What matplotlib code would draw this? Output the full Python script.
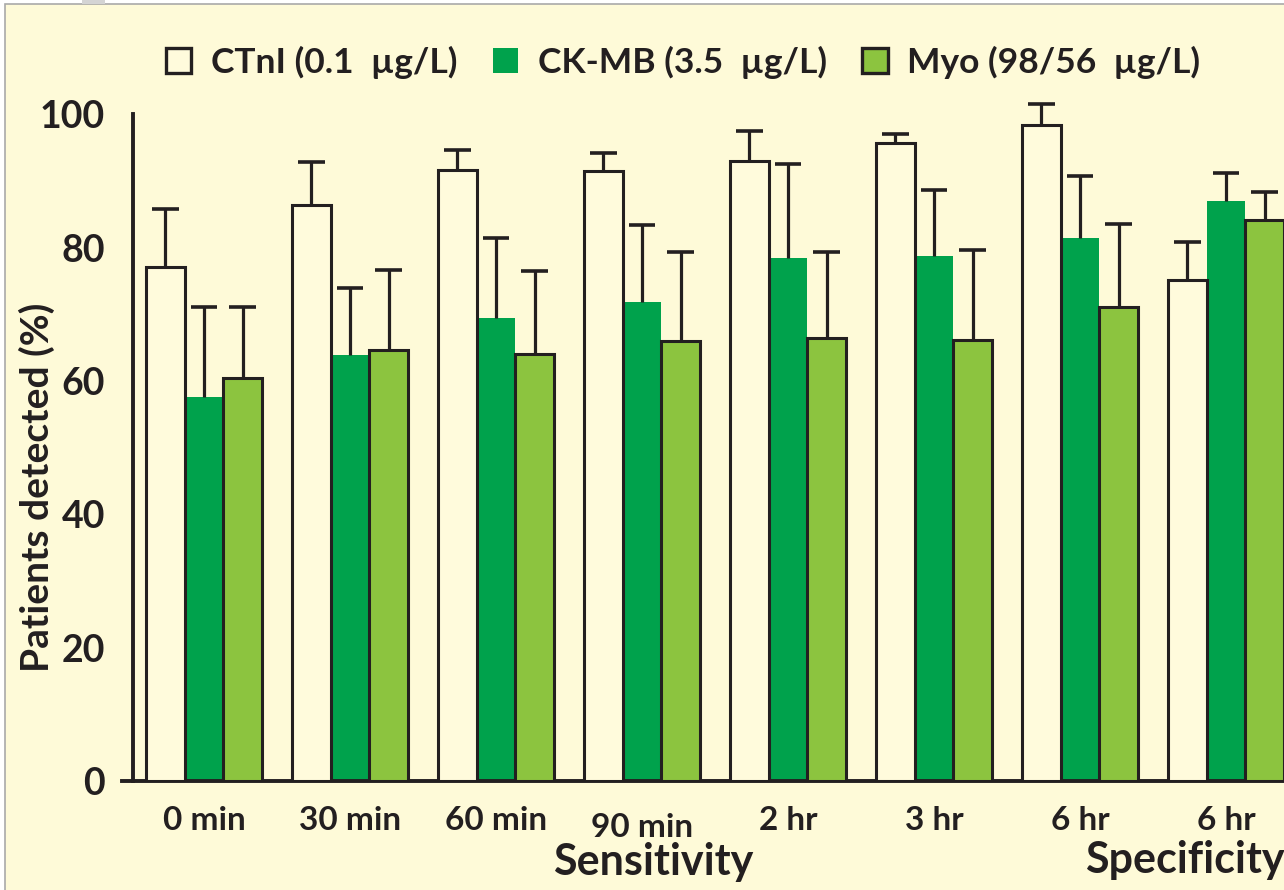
import numpy as np
import matplotlib
matplotlib.use("Agg")
import matplotlib.pyplot as plt
from matplotlib.patches import Patch, Rectangle
from matplotlib.transforms import ScaledTranslation

plt.rcParams['font.family'] = ['Lato', 'DejaVu Sans']
plt.rcParams['font.weight'] = 'bold'

# marker levels (% of patients detected), upper error bar lengths
categories = ['0 min', '30 min', '60 min', '90 min', '2 hr', '3 hr', '6 hr', '6 hr']
ctni = [77.1, 86.4, 91.7, 91.5, 93.0, 95.7, 98.4, 75.2]
ctni_err = [8.7, 6.5, 3.0, 2.7, 4.5, 1.4, 3.2, 5.7]
ckmb = [57.6, 63.9, 69.4, 71.9, 78.4, 78.8, 81.4, 87.0]
ckmb_err = [13.5, 10.1, 12.1, 11.5, 14.1, 9.9, 9.3, 4.2]
myo = [60.4, 64.6, 64.1, 66.0, 66.5, 66.1, 71.1, 84.1]
myo_err = [10.7, 12.0, 12.4, 13.4, 12.9, 13.6, 12.4, 4.3]
legend_labels = ['CTnI (0.1  \u00b5g/L)', 'CK-MB (3.5  \u00b5g/L)', 'Myo (98/56  \u00b5g/L)']

CREAM = '#fefad8'
PALE = '#fffbdc'
GREEN = '#00a24c'
LGREEN = '#8cc43f'
INK = '#231f20'

W, H = 1284, 890
fig = plt.figure(figsize=(W / 100, H / 100), dpi=100, facecolor='white')
fig.patches.append(Rectangle((5 / W, -0.1), 1.2, 1 - 4 / H + 0.1, transform=fig.transFigure,
                             facecolor=CREAM, edgecolor='#a9a9a9', lw=1.2, zorder=-10))
fig.patches.append(Rectangle((82 / W, 1 - 4 / H), 23 / W, 4 / H, transform=fig.transFigure,
                             facecolor='#d4d4d4', edgecolor='none', zorder=-9))

ax = fig.add_axes([122 / W, 109 / H, 1162 / W, 700 / H])
ax.set_facecolor('none')

x = np.arange(len(categories))
w = 0.265
cap = 0.092

ax.bar(x, ckmb, w, color=GREEN, edgecolor='none', zorder=2)
ax.bar(x - w, ctni, w, color=PALE, edgecolor=INK, lw=2.2, zorder=3)
ax.bar(x + w, myo, w, color=LGREEN, edgecolor=INK, lw=2.2, zorder=3)

# upper error bars only: stem from bar top plus a cap
for xs, vals, err in [(x - w, ctni, ctni_err), (x, ckmb, ckmb_err), (x + w, myo, myo_err)]:
    top = np.array(vals) + np.array(err)
    ax.vlines(xs, vals, top, color=INK, lw=2.3, zorder=4)
    ax.hlines(top, xs - cap, xs + cap, color=INK, lw=2.6, zorder=4)

ax.set_xlim(-0.562, 7.397)
ax.set_ylim(0, 105)
for s in ['top', 'right']:
    ax.spines[s].set_visible(False)
ax.spines['left'].set_position(('data', -0.486))
ax.spines['left'].set_bounds(0, 100)
ax.spines['left'].set_linewidth(2.8)
ax.spines['bottom'].set_linewidth(2.8)
ax.spines['left'].set_color(INK)
ax.spines['bottom'].set_color(INK)

ax.set_yticks(range(0, 101, 20))
ax.tick_params(axis='y', length=0, pad=20, labelsize=27, labelcolor=INK)
ax.set_xticks(x)
ax.set_xticklabels(categories)
ax.tick_params(axis='x', length=0, pad=18, labelsize=24, labelcolor=INK)
lbl = ax.get_xticklabels()[3]
lbl.set_transform(lbl.get_transform() + ScaledTranslation(0, -0.07, fig.dpi_scale_trans))

fig.text(37 / W, 1 - 487 / H, 'Patients detected (%)', rotation=90,
         ha='center', va='center', fontsize=28, color=INK)
fig.text(653 / W, 1 - 862 / H, 'Sensitivity', ha='center', va='center', fontsize=31, color=INK)
fig.text(1185 / W, 1 - 860 / H, 'Specificity', ha='center', va='center', fontsize=31, color=INK)

handles = [Patch(facecolor=PALE, edgecolor=INK, lw=2.4),
           Patch(facecolor=GREEN, edgecolor='none'),
           Patch(facecolor=LGREEN, edgecolor=INK, lw=2.4)]
fig.legend(handles, legend_labels, loc='center', bbox_to_anchor=(683 / W, 1 - 62 / H), ncol=3,
           frameon=False, fontsize=25.5, handlelength=0.72, handleheight=0.72,
           handletextpad=0.55, columnspacing=1.0, labelcolor=INK)

fig.savefig('out.png', dpi=100, facecolor=fig.get_facecolor())
